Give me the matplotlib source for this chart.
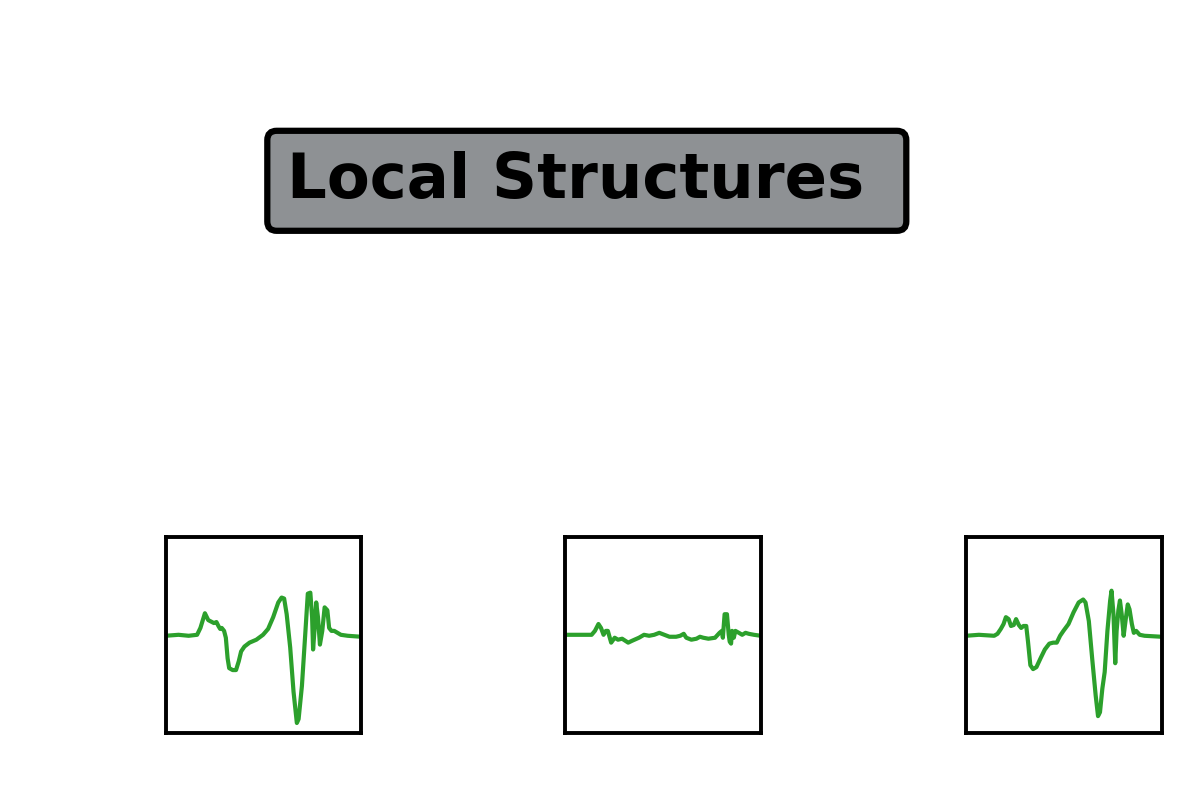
# three local structure snippets under a title box
import matplotlib
matplotlib.use("Agg")
import matplotlib.pyplot as plt

# traced signals: time (0-100) and amplitude (-1..1)
t1 = [0, 6.6, 11.8, 16.1, 17.8, 20.1, 21.8, 24.7, 26.0, 27.0, 27.9, 28.7, 29.9, 30.8, 31.7, 32.5,
      34.3, 36.0, 37.4, 38.6, 40.3, 42.9, 46.4, 49.8, 52.4, 55.0, 57.6, 59.3, 60.6, 61.9, 63.7,
      65.4, 67.1, 68.0, 69.7, 71.5, 72.7, 74.0, 74.9, 75.4, 76.1, 77.0, 77.9, 78.9, 80.1, 81.3,
      82.7, 83.6, 84.8, 86.2, 89.6, 93.1, 100]
a1 = [-0.01, 0.0, -0.01, 0.0, 0.07, 0.22, 0.15, 0.12, 0.13, 0.09, 0.06, 0.07, 0.04, -0.03, -0.24, -0.34,
      -0.36, -0.36, -0.27, -0.17, -0.12, -0.08, -0.05, 0.0, 0.06, 0.18, 0.33, 0.38, 0.37, 0.21, -0.13,
      -0.58, -0.90, -0.86, -0.52, 0.04, 0.42, 0.43, 0.18, -0.15, 0.04, 0.33, 0.18, -0.10, 0.04, 0.28,
      0.25, 0.07, 0.04, 0.04, 0.0, -0.01, -0.02]

t2 = [0, 6.6, 13.5, 15.2, 17.0, 18.3, 19.6, 20.8, 21.8, 23.5, 25.3, 27.0, 29.1, 32.2, 34.3, 37.7,
      40.3, 42.9, 45.5, 48.1, 50.7, 53.3, 56.7, 58.8, 60.6, 61.9, 64.5, 67.1, 68.9, 70.6, 73.2,
      76.6, 78.9, 80.1, 80.6, 81.5, 82.7, 83.6, 84.1, 84.8, 85.3, 86.2, 87.0, 88.8, 90.5, 92.2,
      93.9, 96.5, 100]
a2 = [0.0, 0.0, 0.0, 0.04, 0.11, 0.07, 0.0, 0.04, 0.04, -0.08, -0.03, -0.05, -0.04, -0.08, -0.06, -0.03,
      0.0, -0.01, 0.0, 0.02, 0.0, -0.02, -0.02, -0.01, 0.01, -0.03, -0.05, -0.04, -0.02, -0.03, -0.04,
      -0.03, 0.02, 0.04, -0.03, 0.21, 0.21, 0.0, -0.07, -0.09, 0.04, -0.03, 0.04, 0.02, 0.0, 0.02,
      0.01, 0.0, -0.01]

t3 = [0, 6.6, 14.4, 16.1, 17.8, 19.2, 20.4, 21.8, 23.0, 24.4, 25.6, 27.0, 28.2, 29.4, 30.8, 31.7,
      32.9, 34.3, 36.0, 38.1, 40.3, 42.6, 44.6, 46.4, 48.1, 49.8, 52.4, 55.0, 57.6, 59.9, 61.1,
      62.8, 64.5, 66.3, 67.5, 68.5, 69.7, 70.9, 72.3, 73.7, 74.4, 75.4, 76.3, 77.0, 77.9, 78.7,
      79.6, 80.6, 81.8, 82.7, 83.6, 84.8, 85.8, 87.0, 88.8, 91.3, 100]
a3 = [-0.01, 0.0, -0.01, 0.01, 0.06, 0.11, 0.18, 0.16, 0.09, 0.10, 0.16, 0.10, 0.07, 0.09, 0.09, -0.07,
      -0.31, -0.35, -0.33, -0.24, -0.15, -0.09, -0.08, -0.08, -0.01, 0.04, 0.11, 0.23, 0.33, 0.36, 0.33,
      0.14, -0.24, -0.62, -0.83, -0.79, -0.55, -0.38, 0.04, 0.35, 0.45, 0.21, -0.29, 0.04, 0.25, 0.35,
      0.21, -0.01, 0.18, 0.31, 0.26, 0.11, 0.02, 0.04, 0.0, -0.01, -0.02]

title = "Local Structures "
signals = [(t1, a1), (t2, a2), (t3, a3)]

fig = plt.figure(figsize=(12, 8), dpi=100)

# title box
fig.text(0.489, 0.774, title, ha="center", va="center", fontsize=45, fontweight="bold",
         bbox=dict(boxstyle="round,pad=0.32,rounding_size=0.15", facecolor="#8e9194",
                   edgecolor="black", linewidth=4.5))

# small panels
lefts = [0.138, 0.471, 0.805]
for left, (t, a) in zip(lefts, signals):
    ax = fig.add_axes([left, 0.084, 0.163, 0.245])
    ax.plot(t, a, color="#2ca02c", lw=3)
    ax.set_xlim(0, 100)
    ax.set_ylim(-1, 1)
    ax.set_xticks([])
    ax.set_yticks([])
    for s in ax.spines.values():
        s.set_linewidth(2.8)

fig.savefig("out.png", dpi=100)
